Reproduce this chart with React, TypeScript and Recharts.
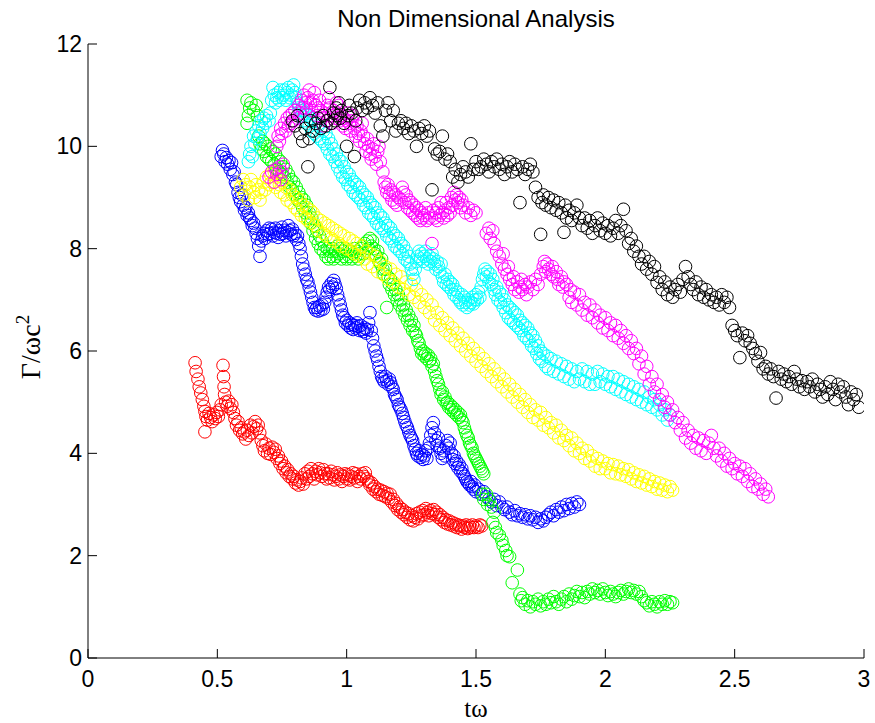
import { ScatterChart, Scatter, XAxis, YAxis } from "recharts";

type Pt = [number, number];

const xTicks = [0, 0.5, 1, 1.5, 2, 2.5, 3];
const yTicks = [0, 2, 4, 6, 8, 10, 12];

const redPoints: Pt[] = [
  [0.414, 5.77], [0.418, 5.6], [0.425, 5.45], [0.43, 5.3], [0.436, 5.18], [0.442, 5.05], [0.448, 4.92], [0.452, 4.82],
  [0.456, 4.72], [0.452, 4.42], [0.462, 4.65], [0.468, 4.78], [0.474, 4.7], [0.48, 4.62], [0.486, 4.75], [0.492, 4.68],
  [0.498, 4.8], [0.504, 4.72], [0.51, 4.85], [0.515, 4.95], [0.522, 5.72], [0.524, 5.5], [0.526, 5.3], [0.528, 5.15],
  [0.532, 5.0], [0.538, 4.92], [0.544, 5.02], [0.55, 4.88], [0.556, 4.95], [0.562, 4.8], [0.568, 4.68], [0.574, 4.55],
  [0.58, 4.62], [0.586, 4.45], [0.592, 4.5], [0.598, 4.38], [0.604, 4.42], [0.61, 4.28], [0.616, 4.45], [0.622, 4.35],
  [0.628, 4.55], [0.634, 4.4], [0.64, 4.52], [0.646, 4.62], [0.652, 4.48], [0.658, 4.55], [0.664, 4.4], [0.67, 4.25],
  [0.676, 4.15], [0.682, 4.05], [0.688, 4.18], [0.694, 4.0], [0.7, 4.1], [0.706, 3.98], [0.712, 4.12], [0.718, 4.02],
  [0.724, 4.08], [0.73, 3.9], [0.736, 3.95], [0.742, 3.8], [0.748, 3.85], [0.754, 3.7], [0.76, 3.75], [0.766, 3.62],
  [0.772, 3.68], [0.778, 3.55], [0.784, 3.6], [0.79, 3.5], [0.796, 3.55], [0.802, 3.42], [0.808, 3.48], [0.814, 3.38],
  [0.82, 3.45], [0.826, 3.52], [0.832, 3.4], [0.838, 3.6], [0.844, 3.5], [0.85, 3.65], [0.856, 3.55], [0.862, 3.7],
  [0.868, 3.6], [0.874, 3.5], [0.88, 3.65], [0.886, 3.58], [0.892, 3.7], [0.898, 3.62], [0.904, 3.55], [0.91, 3.68],
  [0.916, 3.6], [0.922, 3.5], [0.928, 3.6], [0.934, 3.52], [0.94, 3.65], [0.946, 3.58], [0.952, 3.48], [0.958, 3.55],
  [0.964, 3.62], [0.97, 3.5], [0.976, 3.58], [0.982, 3.45], [0.988, 3.55], [0.994, 3.6], [1.0, 3.5], [1.006, 3.58],
  [1.012, 3.48], [1.018, 3.55], [1.024, 3.62], [1.03, 3.52], [1.036, 3.6], [1.042, 3.45], [1.048, 3.55], [1.054, 3.5],
  [1.06, 3.6], [1.066, 3.55], [1.072, 3.62], [1.078, 3.5], [1.084, 3.45], [1.09, 3.38], [1.096, 3.42], [1.102, 3.3],
  [1.108, 3.35], [1.114, 3.25], [1.12, 3.3], [1.126, 3.2], [1.132, 3.28], [1.138, 3.18], [1.144, 3.25], [1.15, 3.15],
  [1.156, 3.22], [1.162, 3.12], [1.168, 3.2], [1.174, 3.05], [1.18, 3.1], [1.186, 2.98], [1.192, 3.02], [1.198, 2.9],
  [1.204, 2.95], [1.21, 2.85], [1.216, 2.9], [1.222, 2.8], [1.228, 2.85], [1.234, 2.75], [1.24, 2.82], [1.246, 2.7],
  [1.252, 2.78], [1.258, 2.68], [1.264, 2.75], [1.27, 2.82], [1.276, 2.72], [1.282, 2.85], [1.288, 2.78], [1.294, 2.88],
  [1.3, 2.8], [1.306, 2.92], [1.312, 2.85], [1.318, 2.78], [1.324, 2.88], [1.33, 2.82], [1.336, 2.9], [1.342, 2.8],
  [1.348, 2.85], [1.354, 2.75], [1.36, 2.8], [1.366, 2.7], [1.372, 2.75], [1.378, 2.65], [1.384, 2.7], [1.39, 2.62],
  [1.396, 2.68], [1.402, 2.6], [1.408, 2.65], [1.414, 2.58], [1.42, 2.62], [1.426, 2.55], [1.432, 2.6], [1.438, 2.58],
  [1.444, 2.52], [1.45, 2.58], [1.456, 2.55], [1.462, 2.6], [1.468, 2.53], [1.474, 2.58], [1.48, 2.55], [1.486, 2.6],
  [1.492, 2.55], [1.5, 2.58], [1.508, 2.55], [1.515, 2.6], [1.522, 2.58],
];

const bluePoints: Pt[] = [
  [0.52, 9.92], [0.515, 9.8], [0.525, 9.85], [0.53, 9.7], [0.535, 9.78], [0.54, 9.65], [0.545, 9.72], [0.55, 9.55],
  [0.555, 9.68], [0.56, 9.45], [0.565, 9.5], [0.57, 9.3], [0.575, 9.25], [0.58, 9.1], [0.585, 9.0], [0.59, 8.92],
  [0.595, 9.05], [0.6, 8.85], [0.605, 8.75], [0.61, 8.8], [0.615, 8.65], [0.62, 8.7], [0.625, 8.6], [0.63, 8.55],
  [0.635, 8.45], [0.64, 8.5], [0.645, 8.4], [0.65, 8.3], [0.655, 8.2], [0.66, 8.05], [0.665, 7.85], [0.67, 8.15],
  [0.675, 8.25], [0.68, 8.3], [0.685, 8.2], [0.69, 8.35], [0.695, 8.28], [0.7, 8.4], [0.705, 8.3], [0.71, 8.38],
  [0.715, 8.25], [0.72, 8.32], [0.725, 8.4], [0.73, 8.3], [0.735, 8.22], [0.74, 8.35], [0.745, 8.28], [0.75, 8.42],
  [0.755, 8.3], [0.76, 8.36], [0.765, 8.25], [0.77, 8.32], [0.775, 8.45], [0.78, 8.35], [0.785, 8.28], [0.79, 8.38],
  [0.795, 8.25], [0.8, 8.3], [0.805, 8.18], [0.81, 8.25], [0.815, 8.1], [0.82, 8.0], [0.825, 7.85], [0.83, 7.7],
  [0.835, 7.6], [0.84, 7.5], [0.845, 7.4], [0.85, 7.35], [0.855, 7.25], [0.86, 7.15], [0.865, 7.05], [0.87, 6.95],
  [0.875, 6.85], [0.88, 6.8], [0.885, 6.85], [0.89, 6.78], [0.895, 6.88], [0.9, 6.8], [0.905, 6.9], [0.91, 6.82],
  [0.915, 6.95], [0.92, 7.05], [0.925, 7.15], [0.93, 7.25], [0.935, 7.2], [0.94, 7.32], [0.945, 7.25], [0.95, 7.38],
  [0.955, 7.3], [0.96, 7.22], [0.965, 7.1], [0.97, 7.0], [0.975, 6.9], [0.98, 6.8], [0.985, 6.7], [0.99, 6.65],
  [0.995, 6.55], [1.0, 6.6], [1.005, 6.5], [1.01, 6.55], [1.015, 6.45], [1.02, 6.52], [1.025, 6.42], [1.03, 6.5],
  [1.035, 6.45], [1.04, 6.55], [1.045, 6.48], [1.05, 6.4], [1.055, 6.5], [1.06, 6.42], [1.065, 6.38], [1.07, 6.45],
  [1.075, 6.35], [1.08, 6.42], [1.085, 6.55], [1.09, 6.75], [1.095, 6.4], [1.1, 6.25], [1.105, 6.1], [1.11, 6.0],
  [1.115, 5.9], [1.12, 5.82], [1.125, 5.7], [1.13, 5.6], [1.135, 5.5], [1.14, 5.45], [1.145, 5.4], [1.15, 5.5],
  [1.155, 5.42], [1.16, 5.35], [1.165, 5.45], [1.17, 5.38], [1.175, 5.3], [1.18, 5.25], [1.185, 5.15], [1.19, 5.1],
  [1.195, 5.05], [1.2, 4.95], [1.205, 4.9], [1.21, 4.85], [1.215, 4.78], [1.22, 4.7], [1.225, 4.62], [1.23, 4.55],
  [1.235, 4.5], [1.24, 4.42], [1.245, 4.35], [1.25, 4.3], [1.255, 4.25], [1.26, 4.15], [1.265, 4.08], [1.27, 4.0],
  [1.275, 3.95], [1.28, 4.05], [1.285, 3.92], [1.29, 3.98], [1.295, 3.88], [1.3, 3.95], [1.305, 4.05], [1.31, 3.9],
  [1.315, 4.1], [1.32, 4.2], [1.325, 4.35], [1.33, 4.5], [1.335, 4.6], [1.34, 4.4], [1.345, 4.25], [1.35, 4.15],
  [1.355, 4.3], [1.36, 4.1], [1.365, 4.0], [1.37, 3.9], [1.375, 4.05], [1.38, 3.95], [1.385, 4.15], [1.39, 4.25],
  [1.395, 4.1], [1.4, 4.2], [1.405, 4.0], [1.41, 3.88], [1.415, 3.95], [1.42, 3.8], [1.425, 3.85], [1.43, 3.72],
  [1.435, 3.78], [1.44, 3.65], [1.445, 3.7], [1.45, 3.6], [1.455, 3.55], [1.46, 3.5], [1.465, 3.45], [1.47, 3.42],
  [1.475, 3.38], [1.48, 3.45], [1.485, 3.35], [1.49, 3.3], [1.495, 3.38], [1.5, 3.25], [1.51, 3.3], [1.52, 3.2],
  [1.53, 3.25], [1.54, 3.15], [1.55, 3.1], [1.56, 3.05], [1.57, 3.1], [1.58, 2.98], [1.59, 3.05], [1.6, 2.95],
  [1.61, 2.9], [1.62, 2.95], [1.63, 2.85], [1.64, 2.8], [1.65, 2.88], [1.66, 2.78], [1.67, 2.82], [1.68, 2.75],
  [1.69, 2.8], [1.7, 2.72], [1.71, 2.78], [1.72, 2.7], [1.73, 2.75], [1.74, 2.65], [1.75, 2.72], [1.76, 2.68],
  [1.77, 2.75], [1.78, 2.8], [1.79, 2.85], [1.8, 2.78], [1.81, 2.9], [1.82, 2.85], [1.83, 2.95], [1.84, 2.88],
  [1.85, 3.0], [1.86, 2.92], [1.87, 3.02], [1.88, 2.95], [1.89, 3.05], [1.9, 3.0],
];

const greenPoints: Pt[] = [
  [0.615, 10.9], [0.625, 10.75], [0.62, 10.6], [0.63, 10.85], [0.64, 10.7], [0.65, 10.8], [0.615, 10.45], [0.655, 10.6],
  [0.66, 10.2], [0.665, 10.05], [0.67, 9.95], [0.675, 10.1], [0.68, 9.9], [0.685, 10.05], [0.69, 9.8], [0.695, 10.0],
  [0.7, 9.75], [0.705, 9.95], [0.71, 9.7], [0.715, 9.9], [0.72, 9.65], [0.725, 9.85], [0.73, 9.55], [0.735, 9.75],
  [0.74, 9.5], [0.745, 9.7], [0.75, 9.45], [0.755, 9.6], [0.76, 9.4], [0.765, 9.55], [0.77, 9.3], [0.775, 9.45],
  [0.78, 9.2], [0.785, 9.35], [0.79, 9.15], [0.795, 9.3], [0.8, 9.05], [0.805, 9.2], [0.81, 8.95], [0.815, 9.1],
  [0.82, 8.9], [0.825, 9.0], [0.83, 8.8], [0.835, 8.95], [0.84, 8.7], [0.845, 8.85], [0.85, 8.6], [0.855, 8.7],
  [0.86, 8.5], [0.865, 8.6], [0.87, 8.35], [0.875, 8.45], [0.88, 8.2], [0.885, 8.35], [0.89, 8.1], [0.895, 8.25],
  [0.9, 8.0], [0.905, 8.15], [0.91, 7.95], [0.915, 8.05], [0.92, 7.85], [0.925, 8.0], [0.93, 7.8], [0.935, 7.95],
  [0.94, 7.85], [0.945, 8.0], [0.95, 7.8], [0.955, 7.95], [0.96, 7.85], [0.965, 8.05], [0.97, 7.9], [0.975, 8.0],
  [0.98, 7.8], [0.985, 7.95], [0.99, 7.85], [0.995, 8.0], [1.0, 7.8], [1.005, 7.95], [1.01, 7.85], [1.015, 7.95],
  [1.02, 7.8], [1.025, 7.9], [1.03, 8.0], [1.035, 7.85], [1.04, 7.95], [1.045, 7.8], [1.05, 7.9], [1.055, 8.0],
  [1.06, 8.05], [1.065, 7.9], [1.07, 8.1], [1.075, 7.95], [1.08, 8.15], [1.085, 8.0], [1.09, 8.2], [1.095, 8.05],
  [1.1, 8.15], [1.105, 8.0], [1.11, 7.9], [1.115, 7.85], [1.12, 7.95], [1.125, 7.75], [1.13, 7.7], [1.135, 7.8],
  [1.14, 7.6], [1.145, 7.5], [1.15, 7.6], [1.155, 6.85], [1.16, 7.45], [1.165, 7.3], [1.17, 7.4], [1.175, 7.2],
  [1.18, 7.3], [1.185, 7.1], [1.19, 7.2], [1.195, 7.0], [1.2, 7.1], [1.205, 6.9], [1.21, 7.0], [1.215, 6.8],
  [1.22, 6.9], [1.225, 6.7], [1.23, 6.8], [1.235, 6.6], [1.24, 6.7], [1.245, 6.5], [1.25, 6.6], [1.255, 6.4],
  [1.26, 6.5], [1.265, 6.35], [1.27, 6.3], [1.275, 6.2], [1.28, 6.15], [1.285, 6.05], [1.29, 5.95], [1.295, 6.0],
  [1.3, 5.9], [1.305, 5.95], [1.31, 5.85], [1.315, 5.92], [1.32, 5.8], [1.325, 5.85], [1.33, 5.7], [1.335, 5.75],
  [1.34, 5.6], [1.345, 5.5], [1.35, 5.42], [1.355, 5.35], [1.36, 5.25], [1.365, 5.15], [1.37, 5.2], [1.375, 5.05],
  [1.38, 5.1], [1.385, 4.98], [1.39, 5.0], [1.395, 4.9], [1.4, 4.95], [1.405, 4.85], [1.41, 4.9], [1.415, 4.8],
  [1.42, 4.85], [1.425, 4.75], [1.43, 4.8], [1.435, 4.7], [1.44, 4.75], [1.445, 4.65], [1.45, 4.6], [1.455, 4.5],
  [1.46, 4.42], [1.465, 4.35], [1.47, 4.3], [1.475, 4.2], [1.48, 4.15], [1.485, 4.1], [1.49, 4.0], [1.495, 3.95],
  [1.5, 3.9], [1.505, 3.85], [1.51, 3.8], [1.515, 3.75], [1.52, 3.7], [1.525, 3.65], [1.53, 3.6], [1.525, 3.2],
  [1.53, 3.1], [1.54, 3.2], [1.545, 3.0], [1.55, 3.1], [1.56, 2.95], [1.57, 2.85], [1.565, 2.65], [1.575, 2.55],
  [1.58, 2.45], [1.59, 2.4], [1.6, 2.3], [1.605, 2.2], [1.615, 2.1], [1.62, 2.0], [1.63, 1.98], [1.66, 1.72],
  [1.64, 1.47], [1.67, 1.25], [1.675, 1.12], [1.68, 1.18], [1.69, 1.05], [1.7, 1.12], [1.71, 1.0], [1.72, 1.1],
  [1.73, 1.05], [1.74, 1.15], [1.75, 1.02], [1.76, 1.1], [1.77, 1.05], [1.78, 1.15], [1.79, 1.08], [1.8, 1.2],
  [1.81, 1.1], [1.82, 1.05], [1.83, 1.15], [1.84, 1.2], [1.85, 1.1], [1.86, 1.25], [1.87, 1.15], [1.88, 1.22],
  [1.89, 1.3], [1.9, 1.2], [1.91, 1.28], [1.92, 1.18], [1.93, 1.3], [1.94, 1.25], [1.95, 1.35], [1.96, 1.28],
  [1.97, 1.32], [1.98, 1.25], [1.99, 1.35], [2.0, 1.28], [2.01, 1.22], [2.02, 1.3], [2.03, 1.25], [2.04, 1.2],
  [2.05, 1.28], [2.06, 1.32], [2.07, 1.25], [2.08, 1.3], [2.09, 1.35], [2.1, 1.28], [2.11, 1.32], [2.12, 1.25],
  [2.13, 1.3], [2.14, 1.2], [2.15, 1.12], [2.16, 1.08], [2.17, 1.02], [2.18, 1.1], [2.19, 1.05], [2.2, 1.0],
  [2.21, 1.1], [2.22, 1.05], [2.23, 1.12], [2.24, 1.05], [2.25, 1.1], [2.26, 1.08],
];

const yellowPoints: Pt[] = [
  [0.59, 9.2], [0.6, 9.35], [0.605, 9.05], [0.61, 9.25], [0.62, 8.95], [0.625, 9.2], [0.63, 9.35], [0.64, 9.1],
  [0.645, 9.0], [0.65, 9.25], [0.66, 9.15], [0.665, 8.95], [0.67, 9.1], [0.68, 9.3], [0.685, 9.15], [0.69, 9.4],
  [0.7, 9.25], [0.705, 9.45], [0.71, 9.3], [0.72, 9.5], [0.725, 9.2], [0.73, 9.4], [0.74, 9.25], [0.745, 9.1],
  [0.75, 9.3], [0.76, 9.05], [0.765, 9.2], [0.77, 8.95], [0.78, 9.15], [0.785, 8.9], [0.79, 9.05], [0.8, 8.8],
  [0.805, 9.0], [0.81, 8.75], [0.82, 8.95], [0.825, 8.65], [0.83, 8.85], [0.84, 8.6], [0.845, 8.8], [0.85, 8.55],
  [0.86, 8.75], [0.865, 8.5], [0.87, 8.7], [0.88, 8.45], [0.885, 8.6], [0.89, 8.35], [0.9, 8.55], [0.91, 8.3],
  [0.915, 8.5], [0.92, 8.25], [0.93, 8.45], [0.94, 8.2], [0.945, 8.4], [0.95, 8.15], [0.96, 8.35], [0.97, 8.1],
  [0.975, 8.3], [0.98, 8.05], [0.99, 8.25], [1.0, 8.0], [1.01, 8.2], [1.02, 7.95], [1.025, 8.15], [1.03, 7.9],
  [1.04, 8.1], [1.05, 7.85], [1.06, 8.05], [1.07, 7.8], [1.075, 7.95], [1.08, 7.7], [1.09, 7.9], [1.1, 7.65],
  [1.11, 7.85], [1.12, 7.55], [1.13, 7.75], [1.14, 7.5], [1.15, 7.65], [1.16, 7.4], [1.17, 7.6], [1.18, 7.35],
  [1.19, 7.5], [1.2, 7.25], [1.21, 7.45], [1.22, 7.2], [1.23, 7.35], [1.24, 7.1], [1.25, 7.3], [1.26, 7.05],
  [1.27, 7.2], [1.28, 6.95], [1.29, 7.1], [1.3, 6.85], [1.31, 7.0], [1.32, 6.75], [1.33, 6.9], [1.34, 6.6],
  [1.35, 6.75], [1.36, 6.5], [1.37, 6.65], [1.38, 6.4], [1.39, 6.55], [1.4, 6.3], [1.41, 6.45], [1.42, 6.2],
  [1.43, 6.35], [1.44, 6.1], [1.45, 6.25], [1.46, 6.0], [1.47, 6.15], [1.48, 5.9], [1.49, 6.05], [1.5, 5.8],
  [1.51, 5.95], [1.52, 5.7], [1.53, 5.85], [1.54, 5.6], [1.55, 5.75], [1.56, 5.5], [1.57, 5.65], [1.58, 5.4],
  [1.59, 5.55], [1.6, 5.3], [1.61, 5.45], [1.62, 5.2], [1.63, 5.35], [1.64, 5.1], [1.65, 5.25], [1.66, 5.0],
  [1.67, 5.15], [1.68, 4.9], [1.69, 5.05], [1.7, 4.8], [1.71, 4.95], [1.72, 4.7], [1.73, 4.85], [1.74, 4.65],
  [1.75, 4.8], [1.76, 4.55], [1.77, 4.7], [1.78, 4.5], [1.79, 4.6], [1.8, 4.4], [1.81, 4.55], [1.82, 4.3],
  [1.83, 4.45], [1.84, 4.25], [1.85, 4.35], [1.86, 4.15], [1.87, 4.3], [1.88, 4.05], [1.89, 4.2], [1.9, 4.0],
  [1.91, 4.1], [1.92, 3.9], [1.93, 4.05], [1.94, 3.85], [1.95, 3.95], [1.96, 3.75], [1.97, 3.9], [1.98, 3.7],
  [1.99, 3.85], [2.0, 3.7], [2.01, 3.8], [2.02, 3.62], [2.03, 3.78], [2.04, 3.6], [2.05, 3.75], [2.06, 3.58],
  [2.07, 3.7], [2.08, 3.55], [2.09, 3.68], [2.1, 3.5], [2.11, 3.62], [2.12, 3.45], [2.13, 3.58], [2.14, 3.42],
  [2.15, 3.55], [2.16, 3.38], [2.17, 3.5], [2.18, 3.35], [2.19, 3.45], [2.2, 3.3], [2.21, 3.42], [2.22, 3.28],
  [2.23, 3.38], [2.24, 3.25], [2.25, 3.35], [2.26, 3.28],
];

const cyanPoints: Pt[] = [
  [0.62, 9.7], [0.625, 9.85], [0.63, 10.0], [0.635, 9.8], [0.64, 10.2], [0.645, 10.05], [0.65, 10.3], [0.655, 10.15],
  [0.66, 10.4], [0.665, 10.25], [0.67, 10.5], [0.675, 10.35], [0.68, 10.55], [0.685, 10.45], [0.69, 10.6], [0.7, 10.5],
  [0.705, 10.65], [0.71, 10.9], [0.715, 11.15], [0.72, 11.0], [0.725, 10.85], [0.73, 10.95], [0.735, 11.05], [0.74, 10.9],
  [0.745, 11.1], [0.75, 10.95], [0.755, 11.0], [0.76, 11.1], [0.765, 10.9], [0.77, 11.05], [0.775, 11.15], [0.78, 10.95],
  [0.785, 11.0], [0.79, 11.1], [0.795, 11.2], [0.8, 11.05], [0.805, 10.95], [0.81, 10.85], [0.815, 10.75], [0.82, 10.7],
  [0.825, 10.6], [0.83, 10.7], [0.835, 10.5], [0.84, 10.65], [0.845, 10.45], [0.85, 10.6], [0.855, 10.4], [0.86, 10.55],
  [0.865, 10.3], [0.87, 10.5], [0.875, 10.25], [0.88, 10.45], [0.885, 10.2], [0.89, 10.4], [0.895, 10.15], [0.9, 10.35],
  [0.905, 10.1], [0.91, 10.3], [0.915, 10.05], [0.92, 10.25], [0.925, 9.95], [0.93, 10.15], [0.935, 9.85], [0.94, 10.05],
  [0.945, 9.8], [0.95, 9.95], [0.955, 9.7], [0.96, 9.85], [0.965, 9.6], [0.97, 9.75], [0.975, 9.5], [0.98, 9.7],
  [0.985, 9.4], [0.99, 9.6], [0.995, 9.35], [1.0, 9.5], [1.005, 9.25], [1.01, 9.45], [1.015, 9.2], [1.02, 9.35],
  [1.025, 9.1], [1.03, 9.3], [1.035, 9.05], [1.04, 9.25], [1.045, 9.0], [1.05, 9.2], [1.055, 8.95], [1.06, 9.1],
  [1.065, 8.85], [1.07, 9.05], [1.075, 8.8], [1.08, 9.0], [1.085, 8.7], [1.09, 8.9], [1.095, 8.65], [1.1, 8.85],
  [1.105, 8.6], [1.11, 8.8], [1.115, 8.5], [1.12, 8.7], [1.125, 8.45], [1.13, 8.65], [1.135, 8.4], [1.14, 8.6],
  [1.145, 8.35], [1.15, 8.5], [1.155, 8.25], [1.16, 8.45], [1.165, 8.2], [1.17, 8.4], [1.175, 8.15], [1.18, 8.3],
  [1.185, 8.05], [1.19, 8.25], [1.195, 8.0], [1.2, 8.2], [1.205, 7.95], [1.21, 8.1], [1.215, 7.9], [1.22, 8.05],
  [1.225, 7.8], [1.23, 7.95], [1.235, 7.75], [1.24, 7.85], [1.245, 7.7], [1.25, 7.6], [1.255, 7.5], [1.26, 7.4],
  [1.265, 7.6], [1.27, 7.75], [1.275, 7.85], [1.28, 7.95], [1.285, 7.8], [1.29, 7.9], [1.295, 7.75], [1.3, 7.85],
  [1.305, 7.95], [1.31, 7.8], [1.315, 7.7], [1.32, 7.85], [1.325, 7.75], [1.33, 7.9], [1.335, 7.8], [1.34, 7.7],
  [1.345, 7.6], [1.35, 7.75], [1.355, 7.65], [1.36, 7.55], [1.365, 7.7], [1.37, 7.45], [1.375, 7.35], [1.38, 7.5],
  [1.385, 7.3], [1.39, 7.4], [1.395, 7.25], [1.4, 7.35], [1.405, 7.2], [1.41, 7.3], [1.415, 7.1], [1.42, 7.2],
  [1.425, 7.05], [1.43, 7.15], [1.435, 7.0], [1.44, 6.95], [1.445, 7.1], [1.45, 6.9], [1.455, 7.05], [1.46, 6.95],
  [1.465, 6.85], [1.47, 7.0], [1.475, 6.9], [1.48, 6.95], [1.485, 7.05], [1.49, 6.92], [1.495, 7.0], [1.5, 7.1],
  [1.505, 7.0], [1.51, 7.15], [1.515, 7.05], [1.52, 7.25], [1.525, 7.4], [1.53, 7.5], [1.535, 7.6], [1.54, 7.45],
  [1.545, 7.55], [1.55, 7.35], [1.555, 7.5], [1.56, 7.3], [1.565, 7.4], [1.57, 7.2], [1.575, 7.1], [1.58, 7.25],
  [1.585, 7.0], [1.59, 7.15], [1.595, 6.95], [1.6, 7.1], [1.605, 6.85], [1.61, 7.0], [1.615, 6.75], [1.62, 6.9],
  [1.625, 6.65], [1.63, 6.85], [1.635, 6.6], [1.64, 6.8], [1.645, 6.55], [1.65, 6.75], [1.655, 6.5], [1.66, 6.7],
  [1.665, 6.45], [1.67, 6.6], [1.675, 6.4], [1.68, 6.55], [1.685, 6.3], [1.69, 6.5], [1.695, 6.25], [1.7, 6.45],
  [1.705, 6.2], [1.71, 6.35], [1.715, 6.1], [1.72, 6.3], [1.725, 6.05], [1.73, 6.2], [1.735, 5.95], [1.74, 6.1],
  [1.745, 5.85], [1.75, 6.0], [1.755, 5.8], [1.76, 5.95], [1.77, 5.7], [1.775, 5.9], [1.78, 5.65], [1.79, 5.85],
  [1.8, 5.6], [1.81, 5.8], [1.82, 5.55], [1.83, 5.75], [1.84, 5.5], [1.85, 5.7], [1.86, 5.45], [1.87, 5.65],
  [1.88, 5.4], [1.89, 5.6], [1.9, 5.45], [1.91, 5.65], [1.92, 5.4], [1.93, 5.6], [1.94, 5.35], [1.95, 5.55],
  [1.96, 5.35], [1.97, 5.6], [1.98, 5.4], [1.99, 5.55], [2.0, 5.35], [2.01, 5.5], [2.02, 5.3], [2.03, 5.5],
  [2.04, 5.25], [2.05, 5.45], [2.06, 5.2], [2.07, 5.4], [2.08, 5.15], [2.09, 5.35], [2.1, 5.1], [2.11, 5.3],
  [2.12, 5.05], [2.13, 5.25], [2.14, 5.0], [2.15, 5.2], [2.16, 4.95], [2.17, 5.1], [2.18, 4.9], [2.19, 5.05],
  [2.2, 4.85], [2.21, 4.95], [2.22, 4.75], [2.23, 4.85], [2.24, 4.65], [2.25, 4.75],
];

const magentaPoints: Pt[] = [
  [0.7, 9.4], [0.71, 9.5], [0.72, 9.3], [0.725, 9.55], [0.73, 9.45], [0.74, 9.6], [0.745, 9.35], [0.75, 9.5],
  [0.755, 9.65], [0.73, 10.0], [0.735, 10.2], [0.74, 10.1], [0.745, 10.35], [0.75, 10.25], [0.76, 10.45], [0.765, 10.3],
  [0.77, 10.55], [0.775, 10.4], [0.78, 10.6], [0.785, 10.45], [0.79, 10.65], [0.795, 10.5], [0.8, 10.7], [0.81, 10.55],
  [0.815, 10.8], [0.82, 10.65], [0.825, 10.9], [0.83, 10.75], [0.835, 11.0], [0.84, 10.85], [0.845, 10.75], [0.85, 10.95],
  [0.855, 11.1], [0.86, 10.85], [0.865, 10.7], [0.87, 10.9], [0.875, 11.05], [0.88, 10.8], [0.885, 10.6], [0.89, 10.75],
  [0.895, 10.9], [0.9, 10.7], [0.905, 10.55], [0.91, 10.4], [0.915, 10.65], [0.92, 10.5], [0.925, 10.8], [0.93, 10.95],
  [0.935, 10.75], [0.94, 10.6], [0.945, 10.45], [0.95, 10.7], [0.955, 10.55], [0.96, 10.85], [0.965, 10.65], [0.97, 10.8],
  [0.975, 10.5], [0.98, 10.6], [0.985, 10.4], [0.99, 10.55], [0.995, 10.35], [1.0, 10.5], [1.005, 10.65], [1.01, 10.45],
  [1.015, 10.3], [1.02, 10.5], [1.025, 10.6], [1.03, 10.35], [1.035, 10.2], [1.04, 10.4], [1.045, 10.25], [1.05, 10.1],
  [1.055, 10.3], [1.06, 10.45], [1.065, 10.2], [1.07, 10.05], [1.075, 9.9], [1.08, 10.15], [1.085, 10.0], [1.09, 9.85],
  [1.095, 9.75], [1.1, 9.95], [1.105, 10.05], [1.11, 9.8], [1.115, 9.65], [1.12, 9.9], [1.125, 10.0], [1.13, 9.7],
  [1.14, 9.5], [1.145, 9.3], [1.15, 9.2], [1.155, 9.1], [1.16, 9.25], [1.165, 9.05], [1.17, 9.15], [1.175, 8.95],
  [1.18, 9.1], [1.185, 8.9], [1.19, 9.05], [1.195, 8.85], [1.2, 9.0], [1.21, 8.95], [1.215, 9.2], [1.22, 9.1],
  [1.225, 8.9], [1.23, 9.05], [1.235, 8.8], [1.24, 8.95], [1.245, 8.75], [1.25, 8.9], [1.255, 8.7], [1.26, 8.85],
  [1.265, 8.65], [1.27, 8.8], [1.275, 8.6], [1.28, 8.75], [1.285, 8.55], [1.29, 8.7], [1.295, 8.6], [1.3, 8.65],
  [1.305, 8.8], [1.31, 8.55], [1.315, 8.7], [1.32, 8.6], [1.33, 8.1], [1.335, 8.75], [1.34, 8.6], [1.345, 8.7],
  [1.35, 8.55], [1.355, 8.8], [1.36, 8.65], [1.365, 8.9], [1.37, 8.7], [1.375, 8.6], [1.38, 8.75], [1.385, 8.9],
  [1.39, 8.65], [1.395, 8.8], [1.4, 8.7], [1.405, 9.0], [1.41, 8.85], [1.415, 9.1], [1.42, 8.95], [1.425, 9.05],
  [1.43, 8.9], [1.435, 9.0], [1.44, 8.8], [1.445, 8.95], [1.45, 8.85], [1.46, 8.7], [1.47, 8.8], [1.48, 8.65],
  [1.49, 8.75], [1.5, 8.7], [1.54, 8.3], [1.55, 8.4], [1.555, 8.2], [1.565, 8.35], [1.57, 8.1], [1.58, 7.95],
  [1.59, 7.85], [1.6, 7.7], [1.605, 7.9], [1.61, 7.6], [1.62, 7.5], [1.625, 7.65], [1.63, 7.4], [1.64, 7.3],
  [1.645, 7.45], [1.65, 7.2], [1.66, 7.35], [1.665, 7.15], [1.67, 7.25], [1.675, 7.4], [1.68, 7.2], [1.69, 7.3],
  [1.695, 7.1], [1.7, 7.25], [1.71, 7.35], [1.72, 7.2], [1.73, 7.4], [1.74, 7.3], [1.75, 7.5], [1.76, 7.65],
  [1.765, 7.75], [1.77, 7.55], [1.775, 7.7], [1.78, 7.6], [1.79, 7.5], [1.795, 7.65], [1.8, 7.45], [1.81, 7.55],
  [1.815, 7.4], [1.82, 7.3], [1.83, 7.45], [1.835, 7.25], [1.84, 7.35], [1.85, 7.3], [1.86, 7.05], [1.865, 7.2],
  [1.87, 6.95], [1.88, 7.15], [1.89, 6.9], [1.9, 7.1], [1.91, 6.8], [1.92, 6.95], [1.93, 6.7], [1.94, 6.9],
  [1.95, 6.65], [1.96, 6.8], [1.97, 6.55], [1.98, 6.7], [1.99, 6.45], [2.0, 6.65], [2.01, 6.4], [2.02, 6.55],
  [2.03, 6.3], [2.04, 6.5], [2.05, 6.25], [2.06, 6.4], [2.07, 6.15], [2.08, 6.3], [2.09, 6.05], [2.1, 6.2],
  [2.11, 5.95], [2.12, 6.05], [2.13, 5.75], [2.14, 5.9], [2.15, 5.55], [2.16, 5.7], [2.17, 5.35], [2.18, 5.5],
  [2.19, 5.2], [2.2, 5.35], [2.21, 5.05], [2.22, 5.15], [2.23, 4.9], [2.24, 5.0], [2.25, 4.75], [2.26, 4.85],
  [2.27, 4.6], [2.28, 4.7], [2.29, 4.45], [2.3, 4.6], [2.31, 4.3], [2.32, 4.45], [2.33, 4.2], [2.34, 4.35],
  [2.35, 4.1], [2.36, 4.3], [2.37, 4.05], [2.38, 4.25], [2.39, 4.0], [2.4, 4.2], [2.41, 4.35], [2.42, 4.1],
  [2.43, 3.95], [2.44, 4.1], [2.45, 3.85], [2.46, 4.0], [2.47, 3.75], [2.48, 3.9], [2.49, 3.7], [2.5, 3.8],
  [2.51, 3.6], [2.52, 3.75], [2.53, 3.55], [2.54, 3.7], [2.55, 3.45], [2.56, 3.6], [2.57, 3.35], [2.58, 3.5],
  [2.59, 3.3], [2.6, 3.4], [2.61, 3.2], [2.62, 3.3], [2.63, 3.15],
];

const blackPoints: Pt[] = [
  [0.79, 10.5], [0.8, 10.4], [0.81, 10.6], [0.82, 10.25], [0.83, 10.1], [0.84, 10.35], [0.85, 9.6], [0.855, 10.15],
  [0.86, 10.5], [0.87, 10.3], [0.88, 10.45], [0.89, 10.55], [0.9, 10.35], [0.91, 10.6], [0.92, 10.4], [0.925, 10.5],
  [0.935, 11.15], [0.94, 10.45], [0.95, 10.65], [0.955, 10.5], [0.96, 10.75], [0.965, 10.6], [0.97, 10.85], [0.975, 10.55],
  [0.98, 10.7], [0.99, 10.45], [1.0, 10.0], [1.005, 10.6], [1.01, 10.8], [1.02, 10.65], [1.03, 9.8], [1.035, 10.5],
  [1.04, 10.75], [1.05, 10.9], [1.06, 10.7], [1.07, 10.85], [1.08, 10.75], [1.09, 10.95], [1.1, 10.8], [1.11, 10.65],
  [1.12, 10.85], [1.13, 10.4], [1.14, 10.2], [1.15, 10.7], [1.16, 10.85], [1.17, 10.5], [1.18, 10.7], [1.19, 10.3],
  [1.2, 10.45], [1.21, 10.5], [1.22, 10.35], [1.23, 10.45], [1.24, 10.25], [1.25, 10.4], [1.26, 10.3], [1.27, 10.0],
  [1.28, 10.35], [1.29, 10.25], [1.3, 10.4], [1.31, 10.2], [1.32, 10.3], [1.33, 9.15], [1.34, 9.95], [1.35, 9.85],
  [1.36, 9.9], [1.37, 10.2], [1.38, 9.75], [1.39, 9.85], [1.4, 9.7], [1.41, 9.4], [1.42, 9.55], [1.43, 9.3],
  [1.44, 9.45], [1.45, 9.6], [1.46, 9.5], [1.47, 9.4], [1.48, 10.05], [1.49, 9.55], [1.5, 9.7], [1.51, 9.55],
  [1.52, 9.6], [1.53, 9.75], [1.54, 9.65], [1.55, 9.5], [1.56, 9.7], [1.57, 9.6], [1.58, 9.75], [1.59, 9.55],
  [1.6, 9.65], [1.61, 9.45], [1.62, 9.6], [1.63, 9.7], [1.64, 9.5], [1.65, 9.65], [1.66, 9.55], [1.67, 8.9],
  [1.68, 9.6], [1.69, 9.45], [1.7, 9.55], [1.71, 9.65], [1.72, 9.5], [1.73, 9.2], [1.74, 9.0], [1.75, 8.28],
  [1.755, 8.9], [1.76, 9.05], [1.77, 8.85], [1.78, 9.0], [1.79, 8.8], [1.8, 8.95], [1.81, 8.75], [1.82, 8.9],
  [1.83, 8.7], [1.84, 8.32], [1.845, 8.85], [1.85, 8.6], [1.86, 8.75], [1.87, 8.55], [1.88, 8.7], [1.89, 8.85],
  [1.9, 8.6], [1.91, 8.45], [1.92, 8.6], [1.93, 8.4], [1.94, 8.55], [1.95, 8.3], [1.96, 8.45], [1.97, 8.6],
  [1.98, 8.35], [1.99, 8.5], [2.0, 8.3], [2.01, 8.45], [2.02, 8.25], [2.03, 8.4], [2.04, 8.55], [2.05, 8.3],
  [2.06, 8.45], [2.07, 8.77], [2.08, 8.35], [2.09, 8.1], [2.1, 8.2], [2.11, 7.95], [2.12, 8.05], [2.13, 7.85],
  [2.14, 7.7], [2.15, 7.85], [2.16, 7.6], [2.17, 7.75], [2.18, 7.5], [2.19, 7.65], [2.2, 7.34], [2.21, 7.45],
  [2.22, 7.2], [2.23, 7.35], [2.24, 7.1], [2.25, 7.25], [2.26, 7.05], [2.27, 7.2], [2.28, 7.3], [2.29, 7.15],
  [2.3, 7.4], [2.31, 7.65], [2.32, 7.45], [2.33, 7.3], [2.34, 7.2], [2.35, 7.35], [2.36, 7.1], [2.37, 7.25],
  [2.38, 7.05], [2.39, 7.2], [2.4, 7.0], [2.41, 7.1], [2.42, 6.95], [2.43, 7.05], [2.44, 6.9], [2.45, 7.1],
  [2.46, 6.95], [2.47, 7.05], [2.48, 6.85], [2.49, 6.5], [2.5, 6.4], [2.51, 6.3], [2.52, 5.87], [2.53, 6.35],
  [2.54, 6.2], [2.55, 6.3], [2.56, 6.15], [2.57, 6.05], [2.58, 5.95], [2.59, 5.8], [2.6, 5.97], [2.61, 5.65],
  [2.62, 5.7], [2.63, 5.55], [2.64, 5.65], [2.65, 5.5], [2.66, 5.08], [2.67, 5.6], [2.68, 5.45], [2.69, 5.55],
  [2.7, 5.4], [2.71, 5.5], [2.72, 5.35], [2.73, 5.6], [2.74, 5.45], [2.75, 5.3], [2.76, 5.42], [2.77, 5.25],
  [2.78, 5.4], [2.79, 5.3], [2.8, 5.45], [2.81, 5.2], [2.82, 5.35], [2.83, 5.25], [2.84, 5.1], [2.85, 5.3],
  [2.86, 5.15], [2.87, 5.4], [2.88, 5.25], [2.89, 5.05], [2.9, 5.35], [2.91, 5.2], [2.92, 5.3], [2.93, 5.1],
  [2.94, 4.95], [2.95, 5.2], [2.96, 5.05], [2.97, 5.15], [2.98, 4.9],
];

// plotted in this order, so later runs sit on top
const runs: { name: string; color: string; points: Pt[] }[] = [
  { name: "red", color: "#ff0000", points: redPoints },
  { name: "blue", color: "#0000ff", points: bluePoints },
  { name: "green", color: "#00ff00", points: greenPoints },
  { name: "yellow", color: "#ffff00", points: yellowPoints },
  { name: "cyan", color: "#00ffff", points: cyanPoints },
  { name: "magenta", color: "#ff00ff", points: magentaPoints },
  { name: "black", color: "#000000", points: blackPoints },
];

const SANS = "'Liberation Sans', Arial, sans-serif";
const SERIF = "'Liberation Serif', 'Times New Roman', serif";

function ringShape(color: string) {
  return (props: any) => (
    <circle cx={props.cx} cy={props.cy} r={6.3} fill="none" stroke={color} strokeWidth={1} />
  );
}

function YLabel(props: any) {
  const { x, y, height } = props.viewBox;
  const lx = x + 12;
  const ly = y + height / 2 - 4;
  return (
    <text
      x={lx}
      y={ly}
      transform={`rotate(-90, ${lx}, ${ly})`}
      textAnchor="middle"
      fontFamily={SERIF}
      fontSize={28}
      fill="#000"
    >
      Γ/ωc<tspan dy={-11} fontSize={19}>2</tspan>
    </text>
  );
}

function XLabel(props: any) {
  const { x, y, width } = props.viewBox;
  return (
    <text x={x + width / 2} y={y + 59} textAnchor="middle" fontFamily={SERIF} fontSize={25} fill="#000">
      tω
    </text>
  );
}

export default function App() {
  return (
    <div style={{ position: "absolute", left: 0, top: 0, width: 875, height: 723, background: "#fff" }}>
      <div
        style={{
          position: "absolute",
          left: 88,
          width: 776,
          top: 7,
          textAlign: "center",
          fontFamily: SANS,
          fontSize: 24,
          lineHeight: "24px",
          color: "#000",
        }}
      >
        Non Dimensional Analysis
      </div>
      <ScatterChart width={875} height={723} margin={{ top: 44, right: 11, bottom: 25, left: 28 }}>
        <XAxis
          type="number"
          dataKey="x"
          domain={[0, 3]}
          ticks={xTicks}
          interval={0}
          height={40}
          allowDataOverflow
          stroke="#000"
          tickSize={-9}
          tickMargin={22}
          tick={{ fill: "#000", fontSize: 23, fontFamily: SANS }}
          label={XLabel}
        />
        <YAxis
          type="number"
          dataKey="y"
          domain={[0, 12]}
          ticks={yTicks}
          interval={0}
          width={60}
          allowDataOverflow
          stroke="#000"
          tickSize={-9}
          tickMargin={15}
          tick={{ fill: "#000", fontSize: 23, fontFamily: SANS }}
          label={YLabel}
        />
        {runs.map((r) => (
          <Scatter
            key={r.name}
            name={r.name}
            data={r.points.map(([x, y]) => ({ x, y }))}
            shape={ringShape(r.color)}
            isAnimationActive={false}
          />
        ))}
      </ScatterChart>
    </div>
  );
}
